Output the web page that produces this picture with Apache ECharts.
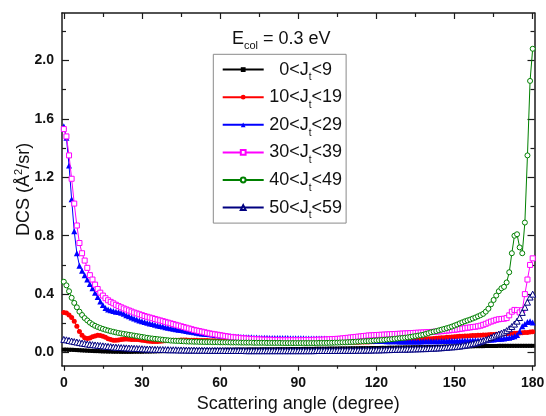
<!DOCTYPE html>
<html><head><meta charset="utf-8">
<script src="https://cdn.jsdelivr.net/npm/echarts@6/dist/echarts.min.js"></script>
<style>html,body{margin:0;padding:0;background:#fff}#c{width:546px;height:416px}</style>
</head><body><div id="c"></div>
<script>
const angles = [
0,1,2,3,4,5,6,7,8,9,10,11,12,13,14,15,16,17,18,19,
20,21,22,23,24,25,26,27,28,29,30,31,32,33,34,35,36,37,38,39,
40,41,42,43,44,45,46,47,48,49,50,51,52,53,54,55,56,57,58,59,
60,61,62,63,64,65,66,67,68,69,70,71,72,73,74,75,76,77,78,79,
80,81,82,83,84,85,86,87,88,89,90,91,92,93,94,95,96,97,98,99,
100,101,102,103,104,105,106,107,108,109,110,111,112,113,114,115,116,117,118,119,
120,121,122,123,124,125,126,127,128,129,130,131,132,133,134,135,136,137,138,139,
140,141,142,143,144,145,146,147,148,149,150,151,152,153,154,155,156,157,158,159,
160,161,162,163,164,165,166,167,168,169,170,171,172,173,174,175,176,177,178,179,180];

const seriesNames = ['0<J_t<9','10<J_t<19','20<J_t<29','30<J_t<39','40<J_t<49','50<J_t<59'];

const j0_9 = [
0.020,0.020,0.019,0.019,0.018,0.017,0.016,0.015,0.014,0.013,
0.012,0.011,0.010,0.010,0.009,0.008,0.008,0.007,0.007,0.006,
0.006,0.006,0.005,0.005,0.005,0.005,0.005,0.006,0.006,0.006,
0.006,0.007,0.007,0.007,0.008,0.008,0.009,0.009,0.010,0.010,
0.010,0.011,0.011,0.012,0.012,0.013,0.013,0.014,0.014,0.015,
0.015,0.015,0.016,0.016,0.016,0.017,0.017,0.017,0.018,0.018,
0.018,0.018,0.019,0.019,0.019,0.019,0.020,0.020,0.020,0.020,
0.020,0.021,0.021,0.021,0.021,0.021,0.022,0.022,0.022,0.022,
0.022,0.022,0.023,0.023,0.023,0.023,0.023,0.024,0.024,0.024,
0.024,0.024,0.025,0.025,0.025,0.025,0.025,0.026,0.026,0.026,
0.026,0.026,0.027,0.027,0.027,0.027,0.028,0.028,0.028,0.028,
0.029,0.029,0.029,0.029,0.030,0.030,0.030,0.030,0.031,0.031,
0.031,0.031,0.032,0.032,0.032,0.033,0.033,0.033,0.034,0.034,
0.034,0.035,0.035,0.035,0.036,0.036,0.036,0.037,0.037,0.037,
0.038,0.038,0.038,0.039,0.039,0.039,0.040,0.040,0.040,0.041,
0.041,0.041,0.042,0.042,0.042,0.043,0.043,0.043,0.044,0.044,
0.044,0.044,0.045,0.045,0.045,0.045,0.045,0.046,0.046,0.046,
0.046,0.046,0.046,0.046,0.046,0.046,0.046,0.046,0.046,0.046,0.046];

const j10_19 = [
0.275,0.270,0.258,0.240,0.215,0.180,0.145,0.118,0.102,0.096,
0.100,0.108,0.114,0.118,0.117,0.112,0.104,0.095,0.089,0.085,
0.084,0.086,0.089,0.091,0.092,0.091,0.090,0.090,0.089,0.087,
0.085,0.082,0.079,0.077,0.075,0.075,0.076,0.077,0.079,0.080,
0.082,0.083,0.084,0.085,0.085,0.086,0.086,0.086,0.085,0.085,
0.084,0.084,0.083,0.083,0.082,0.082,0.081,0.080,0.080,0.079,
0.079,0.078,0.078,0.077,0.077,0.076,0.076,0.075,0.075,0.074,
0.074,0.073,0.073,0.072,0.072,0.072,0.071,0.071,0.071,0.070,
0.070,0.070,0.070,0.069,0.069,0.069,0.069,0.069,0.068,0.068,
0.068,0.068,0.068,0.068,0.068,0.068,0.068,0.068,0.068,0.068,
0.068,0.068,0.068,0.069,0.069,0.069,0.069,0.070,0.070,0.070,
0.070,0.071,0.071,0.071,0.072,0.072,0.073,0.073,0.074,0.074,
0.075,0.075,0.076,0.077,0.077,0.078,0.079,0.080,0.081,0.082,
0.083,0.084,0.085,0.086,0.087,0.088,0.089,0.090,0.091,0.093,
0.094,0.095,0.097,0.098,0.099,0.101,0.102,0.104,0.105,0.107,
0.108,0.110,0.111,0.112,0.113,0.114,0.115,0.116,0.117,0.118,
0.119,0.120,0.121,0.122,0.123,0.124,0.125,0.126,0.127,0.128,
0.129,0.130,0.131,0.132,0.133,0.134,0.135,0.137,0.138,0.140,0.142];

const j20_29 = [
1.550,1.470,1.280,1.050,0.830,0.680,0.595,0.560,0.530,0.500,
0.470,0.440,0.410,0.380,0.350,0.325,0.305,0.295,0.290,0.285,
0.280,0.277,0.272,0.265,0.256,0.248,0.240,0.233,0.226,0.220,
0.214,0.209,0.204,0.199,0.195,0.190,0.186,0.182,0.178,0.174,
0.170,0.166,0.163,0.160,0.157,0.154,0.151,0.148,0.145,0.142,
0.139,0.136,0.133,0.131,0.129,0.127,0.125,0.123,0.121,0.119,
0.117,0.116,0.114,0.113,0.111,0.110,0.109,0.108,0.107,0.106,
0.105,0.104,0.104,0.103,0.103,0.102,0.102,0.101,0.101,0.100,
0.100,0.100,0.100,0.099,0.099,0.099,0.099,0.098,0.098,0.098,
0.098,0.098,0.098,0.097,0.097,0.097,0.097,0.097,0.096,0.096,
0.096,0.095,0.095,0.094,0.094,0.093,0.092,0.092,0.091,0.090,
0.089,0.088,0.088,0.087,0.086,0.085,0.084,0.083,0.082,0.081,
0.080,0.080,0.079,0.079,0.078,0.078,0.077,0.077,0.077,0.076,
0.076,0.076,0.076,0.076,0.076,0.076,0.076,0.076,0.077,0.077,
0.077,0.077,0.078,0.078,0.078,0.079,0.079,0.079,0.080,0.080,
0.080,0.081,0.081,0.082,0.082,0.083,0.083,0.084,0.084,0.085,
0.085,0.086,0.087,0.088,0.089,0.090,0.092,0.093,0.095,0.097,
0.099,0.102,0.106,0.112,0.120,0.145,0.180,0.195,0.210,0.215,0.205];

const j30_39 = [
1.530,1.480,1.350,1.190,1.020,0.870,0.750,0.680,0.630,0.580,
0.530,0.500,0.465,0.435,0.410,0.390,0.372,0.358,0.347,0.337,
0.327,0.318,0.310,0.302,0.295,0.288,0.281,0.274,0.268,0.262,
0.256,0.250,0.245,0.240,0.235,0.230,0.225,0.220,0.215,0.210,
0.205,0.200,0.195,0.190,0.185,0.180,0.175,0.170,0.165,0.160,
0.155,0.151,0.147,0.143,0.139,0.135,0.131,0.128,0.125,0.122,
0.119,0.116,0.113,0.110,0.107,0.105,0.103,0.101,0.099,0.097,
0.096,0.094,0.093,0.092,0.091,0.090,0.089,0.088,0.088,0.087,
0.087,0.086,0.086,0.085,0.085,0.085,0.085,0.085,0.085,0.085,
0.085,0.085,0.085,0.086,0.086,0.086,0.087,0.087,0.088,0.088,
0.089,0.090,0.091,0.092,0.093,0.094,0.095,0.097,0.099,0.101,
0.103,0.105,0.107,0.109,0.111,0.113,0.115,0.117,0.118,0.119,
0.120,0.121,0.122,0.123,0.124,0.125,0.126,0.127,0.128,0.129,
0.130,0.131,0.132,0.133,0.134,0.135,0.136,0.137,0.138,0.139,
0.140,0.141,0.142,0.144,0.145,0.146,0.148,0.150,0.152,0.154,
0.156,0.158,0.161,0.164,0.167,0.170,0.172,0.175,0.177,0.180,
0.184,0.190,0.197,0.205,0.212,0.218,0.224,0.228,0.230,0.232,
0.236,0.255,0.280,0.292,0.290,0.275,0.290,0.400,0.500,0.600,0.645];

const j40_49 = [
0.485,0.460,0.420,0.375,0.340,0.310,0.280,0.257,0.236,0.220,
0.205,0.193,0.183,0.175,0.168,0.162,0.156,0.151,0.146,0.142,
0.138,0.134,0.131,0.128,0.125,0.122,0.119,0.116,0.113,0.110,
0.107,0.104,0.101,0.098,0.096,0.094,0.092,0.090,0.088,0.086,
0.084,0.082,0.081,0.080,0.079,0.078,0.077,0.076,0.075,0.075,
0.074,0.074,0.073,0.073,0.072,0.072,0.072,0.071,0.071,0.071,
0.070,0.070,0.070,0.070,0.069,0.069,0.069,0.069,0.068,0.068,
0.068,0.068,0.068,0.067,0.067,0.067,0.067,0.067,0.066,0.066,
0.066,0.066,0.066,0.066,0.065,0.065,0.065,0.065,0.065,0.065,
0.065,0.065,0.065,0.065,0.065,0.065,0.065,0.065,0.066,0.066,
0.066,0.066,0.067,0.067,0.068,0.068,0.069,0.070,0.070,0.071,
0.072,0.073,0.074,0.075,0.076,0.077,0.078,0.079,0.080,0.082,
0.083,0.084,0.086,0.087,0.089,0.090,0.092,0.094,0.096,0.098,
0.100,0.102,0.104,0.107,0.110,0.113,0.116,0.119,0.122,0.128,
0.133,0.139,0.143,0.147,0.152,0.157,0.162,0.167,0.172,0.178,
0.185,0.192,0.200,0.207,0.214,0.220,0.226,0.233,0.240,0.248,
0.256,0.265,0.280,0.300,0.330,0.360,0.390,0.420,0.440,0.450,
0.480,0.550,0.680,0.800,0.810,0.720,0.680,0.890,1.350,1.860,2.080];

const j50_59 = [
0.090,0.087,0.083,0.079,0.075,0.072,0.068,0.065,0.062,0.059,
0.056,0.054,0.052,0.050,0.048,0.046,0.044,0.042,0.040,0.038,
0.037,0.035,0.034,0.033,0.032,0.031,0.030,0.029,0.028,0.027,
0.026,0.025,0.024,0.024,0.023,0.022,0.022,0.021,0.021,0.020,
0.020,0.019,0.019,0.019,0.018,0.018,0.018,0.017,0.017,0.017,
0.017,0.016,0.016,0.016,0.016,0.016,0.015,0.015,0.015,0.015,
0.015,0.015,0.014,0.014,0.014,0.014,0.014,0.014,0.014,0.014,
0.013,0.013,0.013,0.013,0.013,0.013,0.013,0.013,0.013,0.013,
0.013,0.013,0.013,0.013,0.013,0.013,0.013,0.013,0.013,0.013,
0.013,0.013,0.013,0.013,0.013,0.013,0.013,0.014,0.014,0.014,
0.014,0.014,0.014,0.014,0.014,0.014,0.015,0.015,0.015,0.015,
0.015,0.015,0.015,0.016,0.016,0.016,0.017,0.017,0.017,0.018,
0.018,0.018,0.019,0.019,0.020,0.020,0.021,0.021,0.022,0.022,
0.023,0.023,0.024,0.024,0.025,0.025,0.026,0.026,0.027,0.027,
0.028,0.029,0.030,0.031,0.032,0.033,0.035,0.036,0.038,0.039,
0.040,0.042,0.044,0.047,0.050,0.053,0.057,0.061,0.065,0.070,
0.075,0.081,0.088,0.095,0.103,0.112,0.120,0.127,0.133,0.140,
0.150,0.163,0.178,0.195,0.215,0.240,0.275,0.310,0.345,0.380,0.400];

const xMajorTicks = [0,30,60,90,120,150,180];
const xMinorTicks = [15,45,75,105,135,165];
const yMajorTicks = [0,0.4,0.8,1.2,1.6,2.0];
const yMinorTicks = [0.2,0.6,1.0,1.4,1.8,2.2];

const FONT = '"Liberation Sans", Arial, sans-serif';
const X_MIN = -0.7, X_MAX = 180.7, Y_MIN = -0.09, Y_MAX = 2.325;
const frame = {show:true, onZero:false, lineStyle:{color:'#1a1a1a', width:1.5}};
const noLine = {show:false, onZero:false};

function xAx(pos, ticks, len, inside, line, labels) {
  return {
    type:'value', position:pos, min:X_MIN, max:X_MAX,
    axisLine: line ? frame : noLine,
    axisTick:{show:true, inside:inside, length:len, customValues:ticks, lineStyle:{color:'#1a1a1a', width:1.2}},
    axisLabel: labels ? {show:true, customValues:ticks, margin:10, fontFamily:FONT, fontWeight:'bold', fontSize:14, color:'#111'} : {show:false},
    splitLine:{show:false}
  };
}
function yAx(pos, ticks, len, line, labels) {
  return {
    type:'value', position:pos, min:Y_MIN, max:Y_MAX,
    axisLine: line ? frame : noLine,
    axisTick:{show:true, inside:true, length:len, customValues:ticks, lineStyle:{color:'#1a1a1a', width:1.2}},
    axisLabel: labels ? {show:true, customValues:ticks, margin:8, fontFamily:FONT, fontWeight:'bold', fontSize:14, color:'#111', formatter:v=>v.toFixed(1)} : {show:false},
    splitLine:{show:false}
  };
}

const xAxes = [
  Object.assign(xAx('bottom', xMajorTicks, 5, false, true, true), {
    name:'Scattering angle (degree)', nameLocation:'middle', nameGap:27, nameMoveOverlap:false,
    nameTextStyle:{fontFamily:FONT, fontSize:18, color:'#111', lineHeight:22}
  }),
  xAx('bottom', xMinorTicks, 3, false, false, false),
  xAx('top', xMajorTicks, 6, true, true, false),
  xAx('top', xMinorTicks, 4, true, false, false)
];
const yAxes = [
  Object.assign(yAx('left', yMajorTicks, 7, true, true), {
    name:'{a|DCS (Å}{p|2}{a|/sr)}', nameLocation:'middle', nameRotate:90, nameGap:27, nameMoveOverlap:false,
    nameTextStyle:{fontFamily:FONT, fontSize:18, color:'#111',
      rich:{a:{fontFamily:FONT, fontSize:18, color:'#111', lineHeight:22},
            p:{fontFamily:FONT, fontSize:11, color:'#111', lineHeight:22, verticalAlign:'top'}}}
  }),
  yAx('left', yMinorTicks, 4, false, false),
  yAx('right', yMajorTicks, 7, true, false),
  yAx('right', yMinorTicks, 4, false, false)
];

const styles = [
  {data:j0_9,   color:'#000000', symbol:'rect',     size:4, open:false},
  {data:j10_19, color:'#ff0000', symbol:'circle',   size:5, open:false},
  {data:j20_29, color:'#0000ff', symbol:'triangle', size:6, open:false},
  {data:j30_39, color:'#ff00ff', symbol:'rect',     size:5, open:true},
  {data:j40_49, color:'#008000', symbol:'circle',   size:5, open:true},
  {data:j50_59, color:'#000080', symbol:'triangle', size:6, open:true}
];

const series = styles.map((s, k) => ({
  name: seriesNames[k], type:'line', xAxisIndex:0, yAxisIndex:0,
  data: angles.map((a, i) => [a, s.data[i]]),
  symbol: s.symbol, symbolSize: s.size,
  lineStyle:{color:s.color, width:1},
  itemStyle: s.open ? {color:'#ffffff', borderColor:s.color, borderWidth:1} : {color:s.color, borderWidth:0},
  emphasis:{disabled:true}, animation:false, z:2+k
}));

const chart = echarts.init(document.getElementById('c'), null, {renderer:'canvas'});
chart.setOption({
  backgroundColor:'#ffffff',
  animation:false,
  grid:{left:62, right:11.5, top:13, bottom:50.3, containLabel:false, outerBoundsMode:'none'},
  title:{
    text:'{a|E}{s|col}{a| = 0.3 eV}', left:232, top:25.8, padding:0,
    textStyle:{fontFamily:FONT, fontSize:18, fontWeight:'normal', color:'#111',
      rich:{a:{fontFamily:FONT, fontSize:18, color:'#111', lineHeight:26},
            s:{fontFamily:FONT, fontSize:11, color:'#111', lineHeight:26, verticalAlign:'bottom'}}}
  },
  legend:{
    orient:'vertical', left:213.3, top:54.3, padding:[6.3,4,2.5,8.4],
    itemWidth:41, itemHeight:6, itemGap:5.6,
    borderColor:'#8a8a8a', borderWidth:1, selectedMode:false,
    data: seriesNames,
    formatter: n => { const p = n.split('_t'); return '{a|'+p[0]+'}{s|t}{a|'+p[1]+'}'; },
    textStyle:{fontFamily:FONT, fontSize:18, color:'#111', width:74,
      rich:{a:{fontFamily:FONT, fontSize:18, color:'#111', lineHeight:26, align:'center'},
            s:{fontFamily:FONT, fontSize:10, color:'#111', lineHeight:26, verticalAlign:'bottom', align:'center'}}}
  },
  xAxis: xAxes,
  yAxis: yAxes,
  series: series
});
</script>
</body></html>
